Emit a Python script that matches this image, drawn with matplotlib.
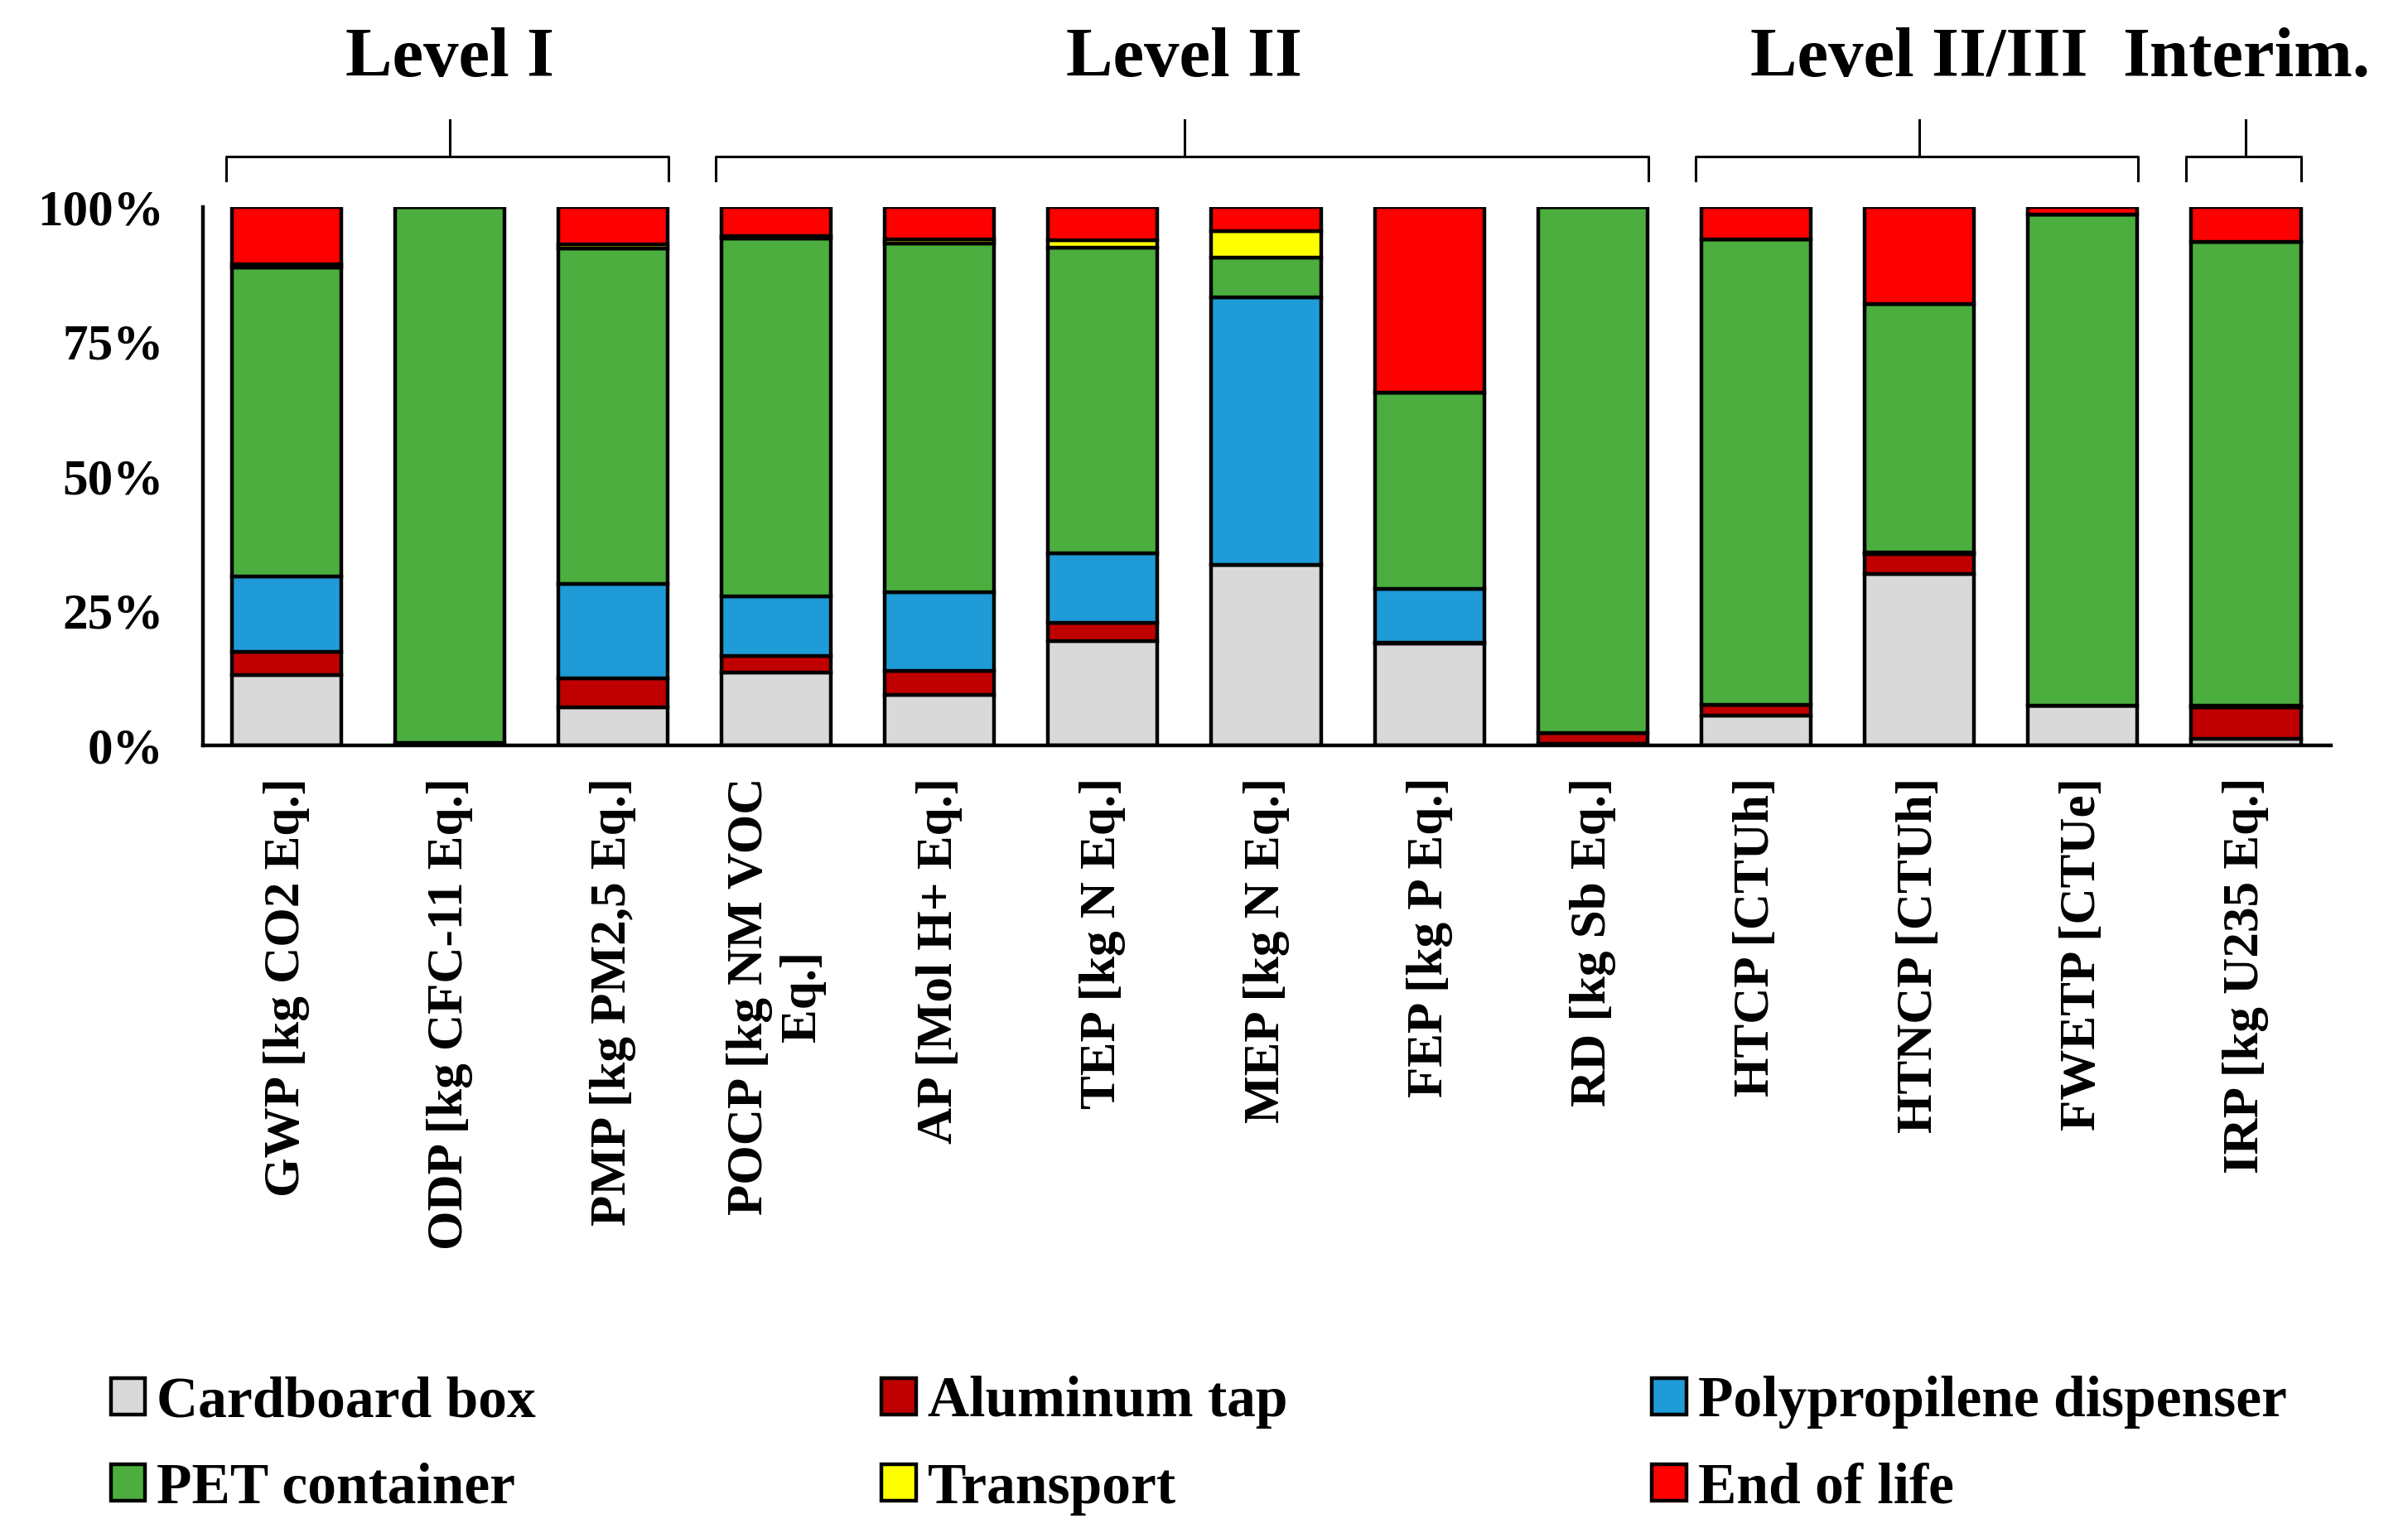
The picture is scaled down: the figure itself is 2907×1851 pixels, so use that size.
import matplotlib

matplotlib.use("Agg")
import matplotlib.pyplot as plt
import numpy as np
from matplotlib.ticker import PercentFormatter
from matplotlib.transforms import blended_transform_factory

plt.rcParams["font.family"] = ["Liberation Serif", "DejaVu Serif"]
plt.rcParams["font.weight"] = "bold"

categorias = [
    "GWP [kg CO2 Eq.]", "ODP [kg CFC-11 Eq.]", "PMP [kg PM2,5 Eq.]",
    "POCP [kg NM VOC\nEq.]", "AP [Mol H+ Eq.]", "TEP [kg N Eq.]",
    "MEP [kg N Eq.]", "FEP [kg P Eq.]", "RD [kg Sb Eq.]",
    "HTCP [CTUh]", "HTNCP [CTUh]", "FWETP [CTUe]", "IRP [kg U235 Eq.]",
]

# contribution (%) of each stage per impact category
cardboard = [13.1, 0.0, 7.1, 13.5, 9.3, 19.4, 33.5, 18.9, 0.3, 5.6, 31.8, 7.3, 1.3]
aluminum = [4.3, 0.5, 5.3, 3.1, 4.5, 3.3, 0.0, 0.2, 2.0, 1.9, 3.7, 0.1, 5.8]
polypropilene = [13.9, 0.0, 17.6, 11.0, 14.6, 12.9, 49.6, 10.0, 0.0, 0.0, 0.3, 0.0, 0.2]
pet = [57.4, 99.5, 62.2, 66.5, 64.8, 56.8, 7.4, 36.4, 97.7, 86.5, 46.2, 91.2, 86.2]
transport = [0.6, 0.0, 0.8, 0.5, 0.8, 1.4, 5.0, 0.0, 0.0, 0.0, 0.0, 0.0, 0.0]
end_of_life = [10.7, 0.0, 7.0, 5.4, 6.0, 6.2, 4.5, 34.5, 0.0, 6.0, 18.0, 1.4, 6.5]

series = [
    ("Cardboard box", cardboard, "#D9D9D9"),
    ("Aluminum tap", aluminum, "#C00000"),
    ("Polypropilene dispenser", polypropilene, "#1F9BD7"),
    ("PET container", pet, "#4BAE3E"),
    ("Transport", transport, "#FFFF00"),
    ("End of life", end_of_life, "#FF0000"),
]

grupos = ["Level I", "Level II", "Level II/III", "Interim."]
grupo_inicio = [0, 3, 9, 12]
grupo_fim = [2, 8, 11, 12]

fig = plt.figure(figsize=(29.07, 18.51), dpi=100)
ax = fig.add_axes([0.0843, 0.5138, 0.968 - 0.0843, 0.8652 - 0.5138])

x = np.arange(len(categorias))
base = np.zeros(len(categorias))
handles = []
for nome, vals, cor in series:
    vals = np.array(vals)
    h = ax.bar(x, vals, bottom=base, width=0.67, color=cor,
               edgecolor="black", linewidth=3.2, label=nome)
    handles.append(h)
    base += vals

ax.set_xlim(-0.51, 12.52)
ax.set_ylim(0, 100)
ax.set_yticks([0, 25, 50, 75, 100])
ax.yaxis.set_major_formatter(PercentFormatter(100, decimals=0))
ax.set_xticks(x)
ax.set_xticklabels(categorias, rotation=90, va="top", ha="center",
                   multialignment="center")
ax.tick_params(axis="y", length=0, pad=34, labelsize=44)
ax.tick_params(axis="x", length=0, pad=28, labelsize=44)
for s in ["top", "right"]:
    ax.spines[s].set_visible(False)
for s in ["left", "bottom"]:
    ax.spines[s].set_linewidth(3.2)

# group brackets above the bars
tr = blended_transform_factory(ax.transData, fig.transFigure)
for nome, i0, i1 in zip(grupos, grupo_inicio, grupo_fim):
    xa = i0 - 0.37
    xb = i1 + 0.34
    xc = (i0 + i1) / 2
    yh = 1 - 189 / 1851
    ye = 1 - 218 / 1851
    yt = 1 - 145 / 1851
    ax.plot([xa, xa, xb, xb], [ye, yh, yh, ye], color="black", lw=2.2,
            transform=tr, clip_on=False)
    ax.plot([xc, xc], [yh, yt], color="black", lw=2.2, transform=tr,
            clip_on=False)
    ax.text(xc, 1 - 92 / 1851, nome, transform=tr, ha="center",
            va="baseline", fontsize=61, fontweight="bold")

# legend in three columns
col_x = [0.046, 0.366, 0.686]
for k in range(3):
    fig.legend(handles=[handles[k], handles[k + 3]],
               labels=[series[k][0], series[k + 3][0]],
               loc="center left", bbox_to_anchor=(col_x[k], 0.057),
               frameon=False, fontsize=50, handlelength=0.6,
               handleheight=0.6, handletextpad=0.2, labelspacing=0.58,
               borderpad=0, borderaxespad=0)

fig.savefig("out.png", dpi=100)
plt.close(fig)
